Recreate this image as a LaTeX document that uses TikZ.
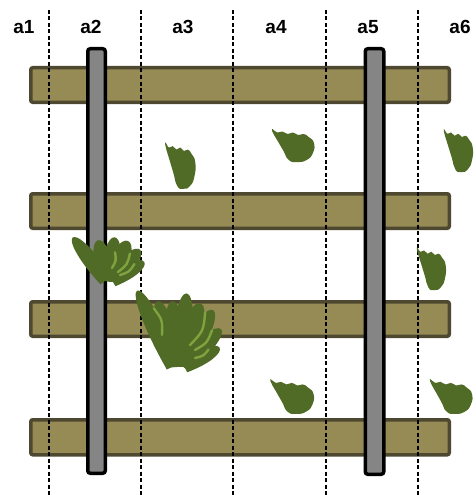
\documentclass[tikz,border=0pt]{standalone}
\usepackage{fontspec}
\setmainfont{Liberation Sans}
\usetikzlibrary{positioning}

\definecolor{sleeperfill}{HTML}{968B55}
\definecolor{sleeperline}{HTML}{4F4830}
\definecolor{railgray}{HTML}{858585}
\definecolor{weeddark}{HTML}{4F6B26}
\definecolor{weedlight}{HTML}{7FA33E}

\begin{document}
\begin{tikzpicture}[x=1pt, y=-1pt,
    sleeper/.style={draw=sleeperline, fill=sleeperfill, line width=3.5pt, rounded corners=2pt},
    rail/.style={draw=black, fill=railgray, line width=3.5pt, rounded corners=2.5pt},
    zone/.style={black, line width=1.3pt, dash pattern=on 4pt off 2.5pt},
    zonelabel/.style={font=\bfseries\fontsize{19}{19}\selectfont},
    weed/.style={fill=weeddark},
    vein/.style={draw=weedlight, line width=2.4pt, line cap=round},
    pics/blade/.style 2 args={code={
        \fill[weed] (-#2,0) .. controls (-1.4*#2,-0.6*#1) and (-0.8*#2,-#1) .. (0,-#1)
                    .. controls (0.8*#2,-#1) and (1.4*#2,-0.6*#1) .. (#2,0) -- cycle;
    }},
    pics/vein/.style={code={
        \draw[vein] (0,0) .. controls (0.2*#1,-0.5*#1) .. (0.05*#1,-#1);
    }},
    pics/clump/.style={code={
        \fill[weed] plot[smooth cycle, tension=0.9] coordinates {
            (-21,-16) (-16,-12.5) (-11,-13.5) (-6,-11) (-1,-12.5) (4,-10)
            (9,-11) (14,-8) (19,-2) (18,8) (12,15) (3,17) (-5,15)
            (-10,6) (-15,-3) (-19,-10)};
    }}]
    \useasboundingbox (0,0) rectangle (475,495);

    % Zone labels
    \node[zonelabel] (a1) at (24,27) {a1};
    \node[zonelabel] (a2) at (91,27) {a2};
    \node[zonelabel] (a3) at (183,27) {a3};
    \node[zonelabel] (a4) at (276,27) {a4};
    \node[zonelabel] (a5) at (368,27) {a5};
    \node[zonelabel] (a6) at (460,27) {a6};

    % Sleepers
    \draw[sleeper] (30.75,67.75) rectangle (449.25,102.25);
    \draw[sleeper] (30.75,193.75) rectangle (449.25,228.25);
    \draw[sleeper] (30.75,301.75) rectangle (449.25,336.25);
    \draw[sleeper] (30.75,419.75) rectangle (449.25,454.75);

    % Zone borders
    \draw[zone] (49,10) -- (49,495);
    \draw[zone] (141,10) -- (141,495);
    \draw[zone] (233,10) -- (233,495);
    \draw[zone] (326,10) -- (326,495);
    \draw[zone] (418,10) -- (418,495);

    % Rails
    \draw[rail] (87.75,48.75) rectangle (105.25,473.25);
    \draw[rail] (365.25,48.75) rectangle (383.75,474.25);

    % Small weeds
    \pic[xscale=0.75, yscale=1.4] at (181,165) {clump};
    \pic[xscale=1.05, yscale=1.0] at (294,145) {clump};
    \pic[xscale=0.72, yscale=1.3] at (459,150) {clump};
    \pic[xscale=0.72, yscale=1.3] at (432,268) {clump};
    \pic[xscale=1.08, yscale=1.05] at (293,396) {clump};
    \pic[xscale=1.05, yscale=1.05] at (452,396) {clump};

    % Weed tuft on the left rail
    \fill[weed] (112,268) ellipse (18 and 14);
    \pic[rotate=38] at (106,280) {blade={54}{7}};
    \pic[rotate=14] at (108,280) {blade={41}{8}};
    \pic[rotate=-6] at (110,281) {blade={44}{8}};
    \pic[rotate=-25] at (110,280) {blade={43}{9}};
    \pic[rotate=-44] at (111,280) {blade={42}{8}};
    \pic[rotate=-61] at (112,280) {blade={37}{7}};
    \pic[rotate=-30] at (118,272) {vein=22};
    \pic[rotate=-50] at (120,275) {vein=18};
    \pic[rotate=-8] at (112,268) {vein=16};

    % Large weed tuft in a3
    \fill[weed] (180,345) ellipse (20 and 22);
    \pic[rotate=26] at (174,366) {blade={84}{8}};
    \pic[rotate=15] at (175,366) {blade={67}{9}};
    \pic[rotate=4] at (177,367) {blade={66}{9}};
    \pic[rotate=-6] at (179,366) {blade={73}{9}};
    \pic[rotate=-18] at (180,366) {blade={66}{10}};
    \pic[rotate=-29] at (182,366) {blade={64}{9}};
    \pic[rotate=-46] at (183,366) {blade={53}{8}};
    \pic[rotate=-63] at (184,366) {blade={40}{7}};
    \pic[rotate=-22] at (190,345) {vein=36};
    \pic[rotate=-38] at (195,350) {vein=26};
    \pic[rotate=20] at (162,335) {vein=28};
    \pic[rotate=-55] at (195,358) {vein=16};
\end{tikzpicture}
\end{document}
